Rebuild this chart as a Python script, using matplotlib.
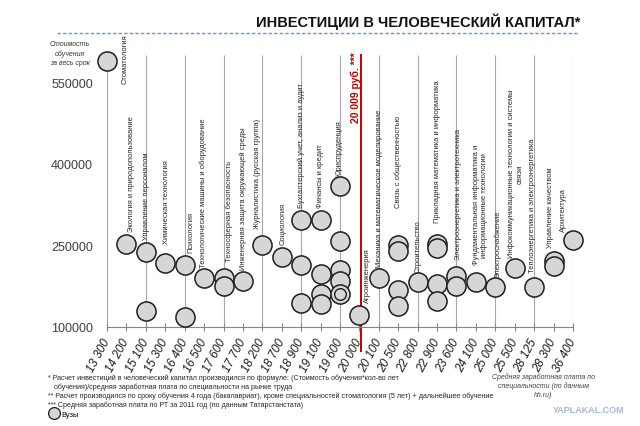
"""
Investments in human capital by specialty (recreated infographic).
"""
import numpy as np
import matplotlib
matplotlib.use("Agg")
import matplotlib.pyplot as plt
from matplotlib.lines import Line2D
from matplotlib.ticker import StrMethodFormatter

plt.rcParams["font.family"] = ["Liberation Sans", "DejaVu Sans"]

# ---------------------------------------------------------------------------
# Data
# ---------------------------------------------------------------------------
salary_labels = ["13 300", "14 200", "15 100", "15 300", "16 400", "16 500",
                 "17 600", "17 700", "18 200", "18 700", "18 900", "19 100",
                 "19 600", "20 000", "20 100", "20 500", "22 800", "22 900",
                 "23 600", "24 100", "25 000", "25 500", "28 125", "28 300",
                 "36 400"]

specialties = [
    "Стоматология",
    "Экология и природопользование",
    "Управление персоналом",
    "Химическая технология",
    "Психология",
    "Технологические машины и оборудование",
    "Техносферная безопасность",
    "Инженерная защита окружающей среды",
    "Журналистика (русская группа)",
    "Социология",
    "Бухгалтерский учет, анализ и аудит",
    "Финансы и кредит",
    "Юриспруденция",
    "Агроинженерия",
    "Механика и математическое моделирование",
    "Связь с общественностью",
    "Строительство",
    "Прикладная математика и информатика",
    "Электроэнергетика и электротехника",
    "Фундаментальная информатика и\nинформационные технологии",
    "Электроснабжение",
    "Инфокоммуникационные технологии и системы\nсвязи",
    "Теплоэнергетика и электроэнергетика",
    "Управление качеством",
    "Архитектура",
]

# investment per university, grouped by specialty
investments = [
    [590000],
    [252000],
    [238000, 130000],
    [218000],
    [214000, 119000],
    [191000],
    [190000, 175000],
    [184000],
    [250000],
    [228000],
    [297000, 214000, 144000],
    [297000, 197000, 160000, 142000],
    [359000, 259000, 204000, 185000, 161000],
    [122000],
    [190000],
    [250000, 240000, 168000, 139000],
    [182000],
    [253000, 246000, 179000, 148000],
    [193000, 175000],
    [182000],
    [174000],
    [208000],
    [174000],
    [222000, 213000],
    [260000],
]

# inner ring drawn on top of one Юриспруденция bubble
inner_ring = [(12, 161000)]

avg_wage_rt = 20009

# ---------------------------------------------------------------------------
# Layout (text offsets in pixels relative to top bubble of each specialty)
# ---------------------------------------------------------------------------
label_offsets = [(18, -22), (5, 13), (1, 13), (1, 20), (6, 13), (-1, 11),
                 (6, 17), (0, 12), (-5, 17), (1, 13), (0, 13), (0, 13),
                 (-1, 10), (8, 13), (1, 11), (0, 38), (0, 10), (0, 22),
                 (2, 17), (5, 18), (3, 10), (1, 11), (-2, 15), (-3, 14),
                 (-10, 9)]

W, H = 640, 427
BUBBLE_FC = "#d6d6d6"
BUBBLE_EC = "#1e1e1e"
RED = "#c00000"

fig = plt.figure(figsize=(W / 100, H / 100), dpi=100)
ax = fig.add_axes([107 / W, (H - 328) / H, 466 / W, 271.7 / H])

n = len(salary_labels)
xs = [i for i, vals in enumerate(investments) for _ in vals]
ys = [v for vals in investments for v in vals]

# vertical gridlines every second category
ax.vlines(np.arange(0, n, 2), 100000, 600000, color="#a6a6a6", lw=0.8,
          zorder=0)

# average wage in the republic, placed between its neighbour categories
wages = [int(s.replace(" ", "")) for s in salary_labels]
k = int(np.searchsorted(wages, avg_wage_rt, side="right")) - 1
red_x = k + (avg_wage_rt - wages[k]) / (wages[k + 1] - wages[k])
ax.axvline(red_x, ymin=-0.088, ymax=1.0, color=RED, lw=1.4, clip_on=False,
           zorder=1)
ax.annotate("20 009 руб. ***", xy=(red_x, 0.755),
            xycoords=("data", "axes fraction"), xytext=(-5, 0),
            textcoords="offset pixels", rotation=90, rotation_mode="anchor",
            ha="left", va="center", color=RED, fontweight="bold",
            fontsize=7.5)

ax.scatter(xs, ys, s=190, facecolor=BUBBLE_FC, edgecolor=BUBBLE_EC,
           linewidth=1.1, clip_on=False, zorder=3)
ax.scatter([p[0] for p in inner_ring], [p[1] for p in inner_ring], s=70,
           facecolor=BUBBLE_FC, edgecolor=BUBBLE_EC, linewidth=1.0,
           clip_on=False, zorder=4)

for i, (name, (dx, dy)) in enumerate(zip(specialties, label_offsets)):
    ax.annotate(name, xy=(i, max(investments[i])), xytext=(dx, dy),
                textcoords="offset pixels", rotation=90,
                rotation_mode="anchor", ha="left", va="center",
                multialignment="center", fontsize=5.4, color="#262626")

ax.set_xlim(0, n - 1)
ax.set_ylim(100000, 600000)
ax.set_yticks([100000, 250000, 400000, 550000])
ax.yaxis.set_major_formatter(StrMethodFormatter("{x:.0f}"))
ax.set_xticks(range(n))
ax.set_xticklabels(salary_labels, rotation=62, ha="right", va="center",
                   rotation_mode="anchor", fontstyle="italic", fontsize=8.5,
                   color="#1a1a1a")
ax.tick_params(axis="x", direction="inout", length=6, pad=6,
               color="#868686")
ax.tick_params(axis="y", length=0, pad=10, labelsize=9,
               labelcolor="#404040")
for side in ("top", "right", "left"):
    ax.spines[side].set_visible(False)
ax.spines["bottom"].set_color("#868686")
ax.patch.set_alpha(0)

# ---------------------------------------------------------------------------
# Title, notes
# ---------------------------------------------------------------------------
fig.text(418 / W, 1 - 22 / H, "ИНВЕСТИЦИИ В ЧЕЛОВЕЧЕСКИЙ КАПИТАЛ*",
         ha="center", va="center", fontsize=10.5, fontweight="bold",
         color="#111111")
fig.add_artist(Line2D([57 / W, 578 / W], [1 - 34 / H, 1 - 34 / H],
                      transform=fig.transFigure, color="#5b9bd5", lw=1.0,
                      ls=(0, (2.5, 1.5))))
fig.text(70 / W, 1 - 54 / H, "Стоимость\nобучения\nза весь срок",
         ha="center", va="center", fontsize=5, fontstyle="italic",
         color="#333333", linespacing=1.4)

notes = [
    "* Расчет инвестиций в человеческий капитал производился по формуле: "
    "(Стоимость обучения*кол-во лет",
    "   обучения)/средняя заработная плата по специальности на рынке труда",
    "** Расчет производился по сроку обучения 4 года (бакалавриат), кроме "
    "специальностей стоматология (5 лет) + дальнейшее обучение",
    "*** Средняя заработная плата по РТ за 2011 год (по данным Татарстанстата)",
]
for j, line in enumerate(notes):
    fig.text(48 / W, 1 - (378 + 9 * j) / H, line, ha="left", va="center",
             fontsize=5.1, color="#262626")

fig.text(543 / W, 1 - 386 / H,
         "Средняя заработная плата по\nспециальности (по данным\nhh.ru)",
         ha="center", va="center", fontsize=5, fontstyle="italic",
         color="#404040", linespacing=1.3)
fig.text(589 / W, 1 - 411 / H, "YAPLAKAL.COM", ha="center", va="center",
         fontsize=6.5, fontweight="bold", color="#a9b9cf")

handle = Line2D([], [], marker="o", ls="", ms=8.5, mfc=BUBBLE_FC,
                mec=BUBBLE_EC, mew=0.9)
fig.legend([handle], ["Вузы"], loc="center left",
           bbox_to_anchor=(50 / W, 1 - 415 / H), frameon=False, fontsize=5.3,
           handlelength=1.2, handletextpad=0.3, borderpad=0,
           borderaxespad=0)

fig.savefig("out.png", dpi=100)
plt.close("all")
